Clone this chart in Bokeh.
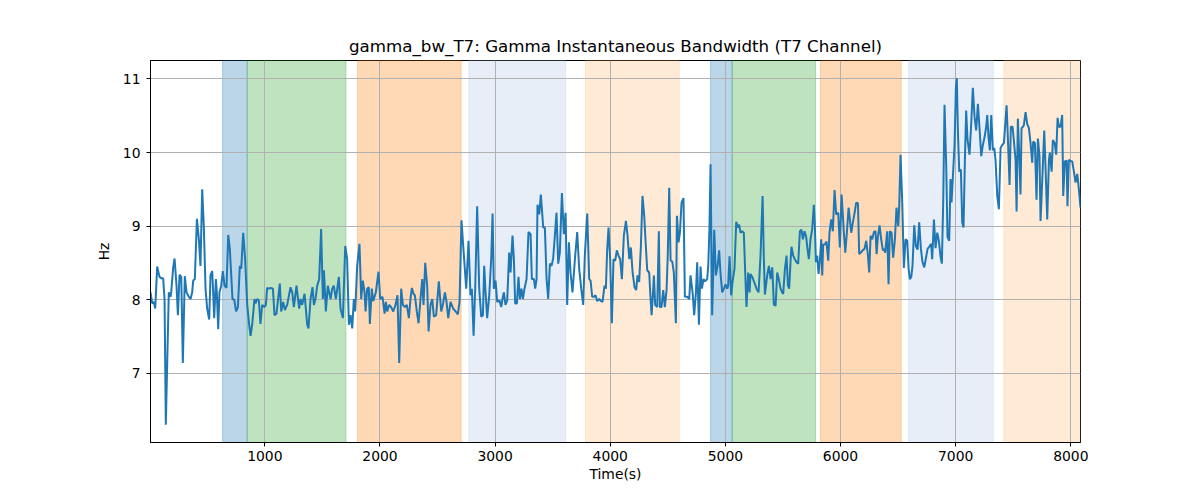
from bokeh.plotting import figure
from bokeh.models import BoxAnnotation, Range1d, FixedTicker
from bokeh.embed import file_html
from bokeh.resources import INLINE

# ---- data ----
time_s = [7, 22, 36, 48, 65, 85, 103, 117, 129, 140, 166, 181, 187, 204, 216, 233, 245, 259, 274, 288,
          305, 320, 340, 355, 369, 378, 392, 410, 427, 441, 456, 470, 485, 499, 517, 528, 543, 551, 560, 575,
          583, 595, 606, 621, 635, 650, 667, 682, 696, 719, 734, 751, 766, 783, 795, 812, 829, 847, 864, 876,
          890, 910, 919, 933, 948, 962, 977, 997, 1009, 1020, 1038, 1052, 1070, 1084, 1101, 1130, 1142, 1159, 1174, 1194,
          1223, 1238, 1252, 1275, 1298, 1310, 1324, 1345, 1368, 1379, 1397, 1414, 1426, 1440, 1455, 1472, 1489, 1504, 1513, 1530,
          1547, 1571, 1585, 1599, 1617, 1643, 1657, 1678, 1698, 1715, 1730, 1744, 1759, 1773, 1785, 1802, 1822, 1837, 1851, 1866,
          1875, 1889, 1903, 1912, 1929, 1941, 1964, 1987, 2002, 2022, 2040, 2051, 2063, 2080, 2097, 2115, 2135, 2152, 2167, 2184,
          2199, 2216, 2233, 2251, 2265, 2277, 2291, 2303, 2320, 2335, 2352, 2367, 2378, 2393, 2410, 2422, 2439, 2454, 2468, 2488,
          2511, 2532, 2546, 2564, 2578, 2593, 2613, 2636, 2662, 2676, 2691, 2708, 2723, 2749, 2769, 2786,
          2798, 2813, 2827, 2844, 2862, 2879, 2894, 2905, 2917, 2931, 2949, 2966, 2978, 2989, 3004, 3018, 3038, 3053, 3064, 3076,
          3090, 3105, 3122, 3134, 3151, 3163, 3174, 3189, 3203, 3215, 3229, 3241, 3255, 3273, 3290, 3308, 3319, 3337, 3348, 3360,
          3368, 3383, 3397, 3418, 3432, 3447, 3461, 3476, 3490, 3504, 3519, 3533, 3548, 3562, 3580, 3597, 3612, 3626, 3641, 3655,
          3672, 3693, 3713, 3730, 3748, 3765, 3779, 3800, 3817, 3829, 3843, 3858, 3872, 3887, 3904, 3921, 3933, 3950, 3962, 3973,
          3985, 3999, 4014, 4028, 4043, 4057, 4072, 4086, 4101, 4118, 4136, 4150, 4165, 4179, 4194, 4211, 4225, 4237, 4251, 4266,
          4280, 4295, 4309, 4321, 4338, 4347, 4359, 4370, 4379, 4390, 4408, 4422, 4431, 4445, 4460, 4474, 4489, 4500, 4512, 4524,
          4538, 4552, 4570, 4579, 4593, 4605, 4619, 4636, 4648, 4668, 4686, 4697, 4715, 4729, 4744, 4755, 4770, 4784, 4796, 4810,
          4822, 4842, 4851, 4862, 4871, 4885, 4903, 4917, 4932, 4946, 4958, 4972, 4987, 5001, 5016, 5024, 5036, 5050, 5065, 5079,
          5094, 5108, 5120, 5131, 5146, 5160, 5172, 5183, 5198, 5210, 5218, 5233, 5250, 5270, 5288, 5305, 5323, 5334, 5343,
          5363, 5378, 5392, 5407, 5421, 5436, 5450, 5464, 5479, 5493, 5502, 5517, 5531, 5543, 5554, 5566, 5574, 5589, 5603, 5618,
          5632, 5647, 5661, 5673, 5687, 5702, 5711, 5725, 5739, 5754, 5768, 5777, 5786, 5797, 5809, 5821, 5832, 5841, 5849, 5864,
          5878, 5893, 5904, 5919, 5933, 5948, 5962, 5980, 5994, 6009, 6029, 6041, 6055, 6070, 6081, 6093, 6107, 6122, 6136, 6151,
          6162, 6177, 6191, 6208, 6223, 6237, 6249, 6261, 6275, 6290, 6304, 6313, 6324, 6339, 6353, 6368, 6379, 6388, 6405, 6417,
          6428, 6443, 6457, 6472, 6486, 6501, 6510, 6521, 6536, 6550, 6565, 6579, 6591, 6602, 6614, 6625, 6640, 6654, 6669, 6683,
          6698, 6712, 6727, 6741, 6756, 6770, 6787, 6796, 6811, 6825, 6840, 6854, 6869, 6880, 6892, 6903, 6918, 6929, 6944, 6955,
          6964, 6976, 6990, 7002, 7010, 7019, 7031, 7045, 7057, 7068, 7080, 7091, 7103, 7120, 7135, 7149, 7164, 7178, 7193, 7207,
          7222, 7236, 7251, 7265, 7274, 7285, 7297, 7309, 7323, 7335, 7346, 7361, 7375, 7390, 7404, 7419, 7433, 7442, 7453, 7468,
          7479, 7494, 7505, 7520, 7529, 7540, 7552, 7563, 7572, 7584, 7592, 7607, 7621, 7636, 7650, 7665, 7673, 7688, 7702, 7714,
          7728, 7737, 7752, 7769, 7784, 7795, 7810, 7818, 7833, 7844, 7859, 7873, 7885, 7896, 7911, 7925, 7934, 7948, 7963, 7971,
          7983, 7998, 8012, 8027, 8041, 8056, 8070, 8084]

bandwidth_hz = [8.10, 7.95, 7.97, 7.88, 8.45, 8.31, 8.29, 8.29, 8.01, 6.30, 8.10, 8.04, 8.10, 8.44, 8.56, 8.19, 7.79, 8.34, 8.31, 7.14,
                8.32, 8.10, 8.04, 8.01, 8.10, 8.26, 8.28, 9.10, 8.82, 8.46, 9.50, 9.00, 8.15, 7.88, 7.73, 8.33, 8.39, 8.10, 7.75, 8.28,
                8.10, 7.60, 8.10, 8.19, 8.39, 8.19, 8.16, 8.88, 8.69, 8.01, 8.00, 7.84, 7.90, 8.46, 8.42, 8.91, 8.55, 7.93, 7.66, 7.51,
                7.66, 8.01, 7.95, 8.01, 7.99, 7.67, 7.93, 7.90, 7.93, 8.16, 8.15, 8.16, 8.15, 7.79, 7.81, 8.22, 7.84, 7.97, 7.86, 7.93,
                8.17, 8.10, 7.90, 8.19, 7.88, 8.01, 7.93, 8.08, 7.66, 7.61, 8.01, 8.17, 7.93, 8.01, 8.19, 8.28, 8.96, 8.01, 8.40, 7.84,
                8.19, 8.01, 8.15, 8.19, 8.01, 8.31, 7.88, 7.75, 8.73, 8.55, 7.66, 7.79, 7.61, 8.01, 7.84, 8.46, 8.76, 8.01, 8.26, 8.10,
                7.84, 8.15, 8.17, 7.67, 8.15, 7.98, 8.10, 8.38, 8.01, 8.04, 7.81, 7.97, 7.84, 7.93, 7.90, 7.84, 7.93, 8.06, 7.14, 8.15,
                7.93, 7.90, 7.93, 7.75, 8.01, 8.16, 8.08, 8.06, 7.84, 7.68, 8.01, 8.28, 7.93, 8.50, 8.19, 7.57, 7.93, 8.01, 7.77, 7.79,
                8.25, 7.84, 7.93, 8.10, 7.97, 7.75, 7.97, 7.88, 7.83, 7.80, 7.97, 9.08, 8.73, 8.15, 8.80, 8.06,
                8.15, 7.51, 8.15, 9.27, 8.15, 7.77, 7.79, 8.46, 8.10, 7.75, 8.06, 8.55, 9.17, 8.15, 8.26, 7.97, 7.99, 7.90, 8.01, 8.10,
                7.93, 7.99, 8.64, 8.37, 8.87, 8.55, 7.95, 7.95, 8.31, 8.01, 8.15, 8.01, 8.15, 8.28, 8.92, 8.89, 8.28, 8.28, 8.15, 8.28,
                9.29, 9.16, 9.43, 8.98, 8.98, 8.28, 8.01, 8.49, 8.46, 8.56, 8.87, 9.18, 8.49, 8.64, 9.45, 8.89, 9.18, 7.93, 8.78, 8.37,
                8.10, 8.55, 8.92, 8.42, 8.15, 7.93, 8.60, 9.17, 8.28, 8.26, 8.04, 8.04, 8.06, 7.98, 8.01, 7.98, 7.97, 8.19, 8.15, 8.67,
                8.98, 8.55, 7.68, 8.55, 8.53, 8.67, 8.60, 8.55, 8.28, 8.87, 9.07, 8.87, 8.55, 8.71, 8.37, 8.17, 8.13, 8.33, 8.24, 8.73,
                9.41, 9.14, 8.73, 8.40, 8.37, 8.10, 7.79, 8.06, 8.33, 7.93, 7.90, 8.93, 7.90, 7.90, 8.13, 7.90, 8.13, 8.64, 9.52, 8.53,
                8.52, 8.37, 7.68, 9.14, 8.78, 8.91, 9.32, 9.38, 8.04, 8.04, 8.01, 8.33, 8.10, 7.79, 8.10, 8.51, 7.66, 8.45, 8.15, 8.28,
                8.25, 8.28, 8.46, 9.00, 9.84, 7.79, 8.95, 8.33, 8.46, 8.67, 8.35, 8.10, 8.15, 8.21, 8.15, 8.19, 8.59, 8.06, 8.28, 8.42,
                9.06, 8.98, 9.02, 8.91, 8.93, 8.91, 8.37, 7.90, 8.37, 8.10, 8.35, 8.31, 8.24, 8.15, 8.10, 8.60, 9.41, 8.55, 8.07,
                8.33, 8.46, 8.28, 8.44, 7.93, 7.92, 8.37, 8.28, 8.15, 8.10, 8.08, 8.42, 8.60, 8.19, 8.15, 8.53, 8.72, 8.60, 8.55, 8.51,
                8.49, 8.93, 8.95, 8.82, 8.93, 8.85, 8.71, 8.55, 8.82, 8.96, 9.29, 9.00, 8.51, 8.60, 8.35, 8.55, 8.82, 8.33, 8.75, 8.75,
                8.79, 8.53, 8.91, 9.09, 8.93, 9.49, 9.16, 9.18, 8.71, 9.43, 8.91, 8.64, 8.91, 9.25, 9.09, 8.91, 9.05, 9.18, 9.32, 9.31,
                8.62, 8.64, 8.67, 8.69, 8.80, 8.62, 8.37, 8.87, 8.82, 8.92, 8.93, 8.62, 8.85, 9.01, 8.82, 8.67, 8.69, 8.64, 8.93, 8.21,
                8.93, 8.91, 8.57, 8.82, 9.25, 9.00, 9.29, 9.97, 9.32, 8.43, 8.82, 8.80, 8.42, 8.28, 8.31, 8.46, 9.01, 8.73, 8.68, 9.05,
                8.69, 8.51, 8.44, 8.56, 8.69, 8.72, 8.76, 8.55, 9.09, 8.70, 8.91, 8.80, 8.58, 8.49, 9.36, 10.65, 9.81, 8.85, 8.80, 9.64,
                9.32, 9.68, 10.10, 10.89, 11.01, 10.30, 9.74, 9.77, 9.05, 8.98, 9.90, 10.57, 10.17, 9.97, 10.39, 10.88, 10.48, 10.30, 10.66, 10.33,
                9.95, 10.10, 10.21, 10.35, 10.51, 10.21, 10.03, 10.51, 10.03, 10.06, 9.90, 9.41, 9.23, 10.06, 10.10, 10.13, 10.44, 10.64, 10.21, 9.56,
                10.35, 10.35, 10.17, 9.90, 9.20, 10.46, 9.97, 9.43, 10.33, 10.35, 10.37, 10.55, 10.39, 10.33, 10.13, 9.86, 10.15, 10.13, 9.36, 10.19,
                9.95, 9.07, 9.63, 10.30, 9.63, 9.09, 9.90, 10.00, 9.74, 10.17, 10.13, 9.97, 10.47, 10.35, 10.35, 10.51, 9.41, 9.88, 9.89, 9.27,
                9.90, 9.88, 9.88, 9.74, 9.59, 9.71, 9.50, 9.25]

span_starts = [633, 847, 1805, 2772, 3785, 4871, 5059, 5826, 6591, 7418]
span_ends = [847, 1704, 2705, 3612, 4599, 5059, 5783, 6527, 7326, 8200]
span_colors = ["#1f77b4", "#2ca02c", "#ff7f0e", "#aec7e8", "#ffbb78",
               "#1f77b4", "#2ca02c", "#ff7f0e", "#aec7e8", "#ffbb78"]

x_ticks = [1000, 2000, 3000, 4000, 5000, 6000, 7000, 8000]
y_ticks = [7, 8, 9, 10, 11]

FONT = "DejaVu Sans"

p = figure(width=1184, height=484, output_backend="svg", toolbar_location=None,
           x_range=Range1d(7, 8084), y_range=Range1d(6.06, 11.25),
           min_border_left=150, min_border_right=104, min_border_top=60, min_border_bottom=40,
           title="gamma_bw_T7: Gamma Instantaneous Bandwidth (T7 Channel)")

p.title.text_font = FONT
p.title.text_font_size = "16.7px"
p.title.text_font_style = "normal"
p.title.align = "center"
p.title.text_color = "black"

for s, e, c in zip(span_starts, span_ends, span_colors):
    p.add_layout(BoxAnnotation(left=s, right=e, fill_color=c, fill_alpha=0.3,
                               line_color=c, line_alpha=0.3, line_width=1, level="image"))

p.line(time_s, bandwidth_hz, line_color="#1f77b4", line_width=2)

p.xaxis.ticker = FixedTicker(ticks=x_ticks)
p.yaxis.ticker = FixedTicker(ticks=y_ticks)
p.xaxis.axis_label = "Time(s)"
p.yaxis.axis_label = "Hz"
for ax in (p.xaxis, p.yaxis):
    ax.axis_label_text_font = FONT
    ax.axis_label_text_font_size = "13.9px"
    ax.axis_label_text_font_style = "normal"
    ax.axis_label_text_color = "black"
    ax.major_label_text_font = FONT
    ax.major_label_text_font_size = "13.9px"
    ax.major_label_text_color = "black"
    ax.minor_tick_line_color = None
    ax.major_tick_in = 0
    ax.major_tick_out = 4
    ax.major_tick_line_color = "black"
    ax.axis_line_color = "black"
p.xaxis.major_label_standoff = 4
p.xaxis.axis_label_standoff = 2
p.yaxis.major_label_standoff = 6
p.yaxis.axis_label_standoff = 8
p.yaxis.major_label_orientation = "horizontal"

p.xgrid.grid_line_color = "#b0b0b0"
p.ygrid.grid_line_color = "#b0b0b0"
p.xgrid.grid_line_width = 1
p.ygrid.grid_line_width = 1

p.outline_line_color = "black"
p.outline_line_width = 1
p.outline_line_alpha = 1
p.background_fill_color = "white"
p.border_fill_color = "white"

open("out.html", "w").write(file_html(p, INLINE))
